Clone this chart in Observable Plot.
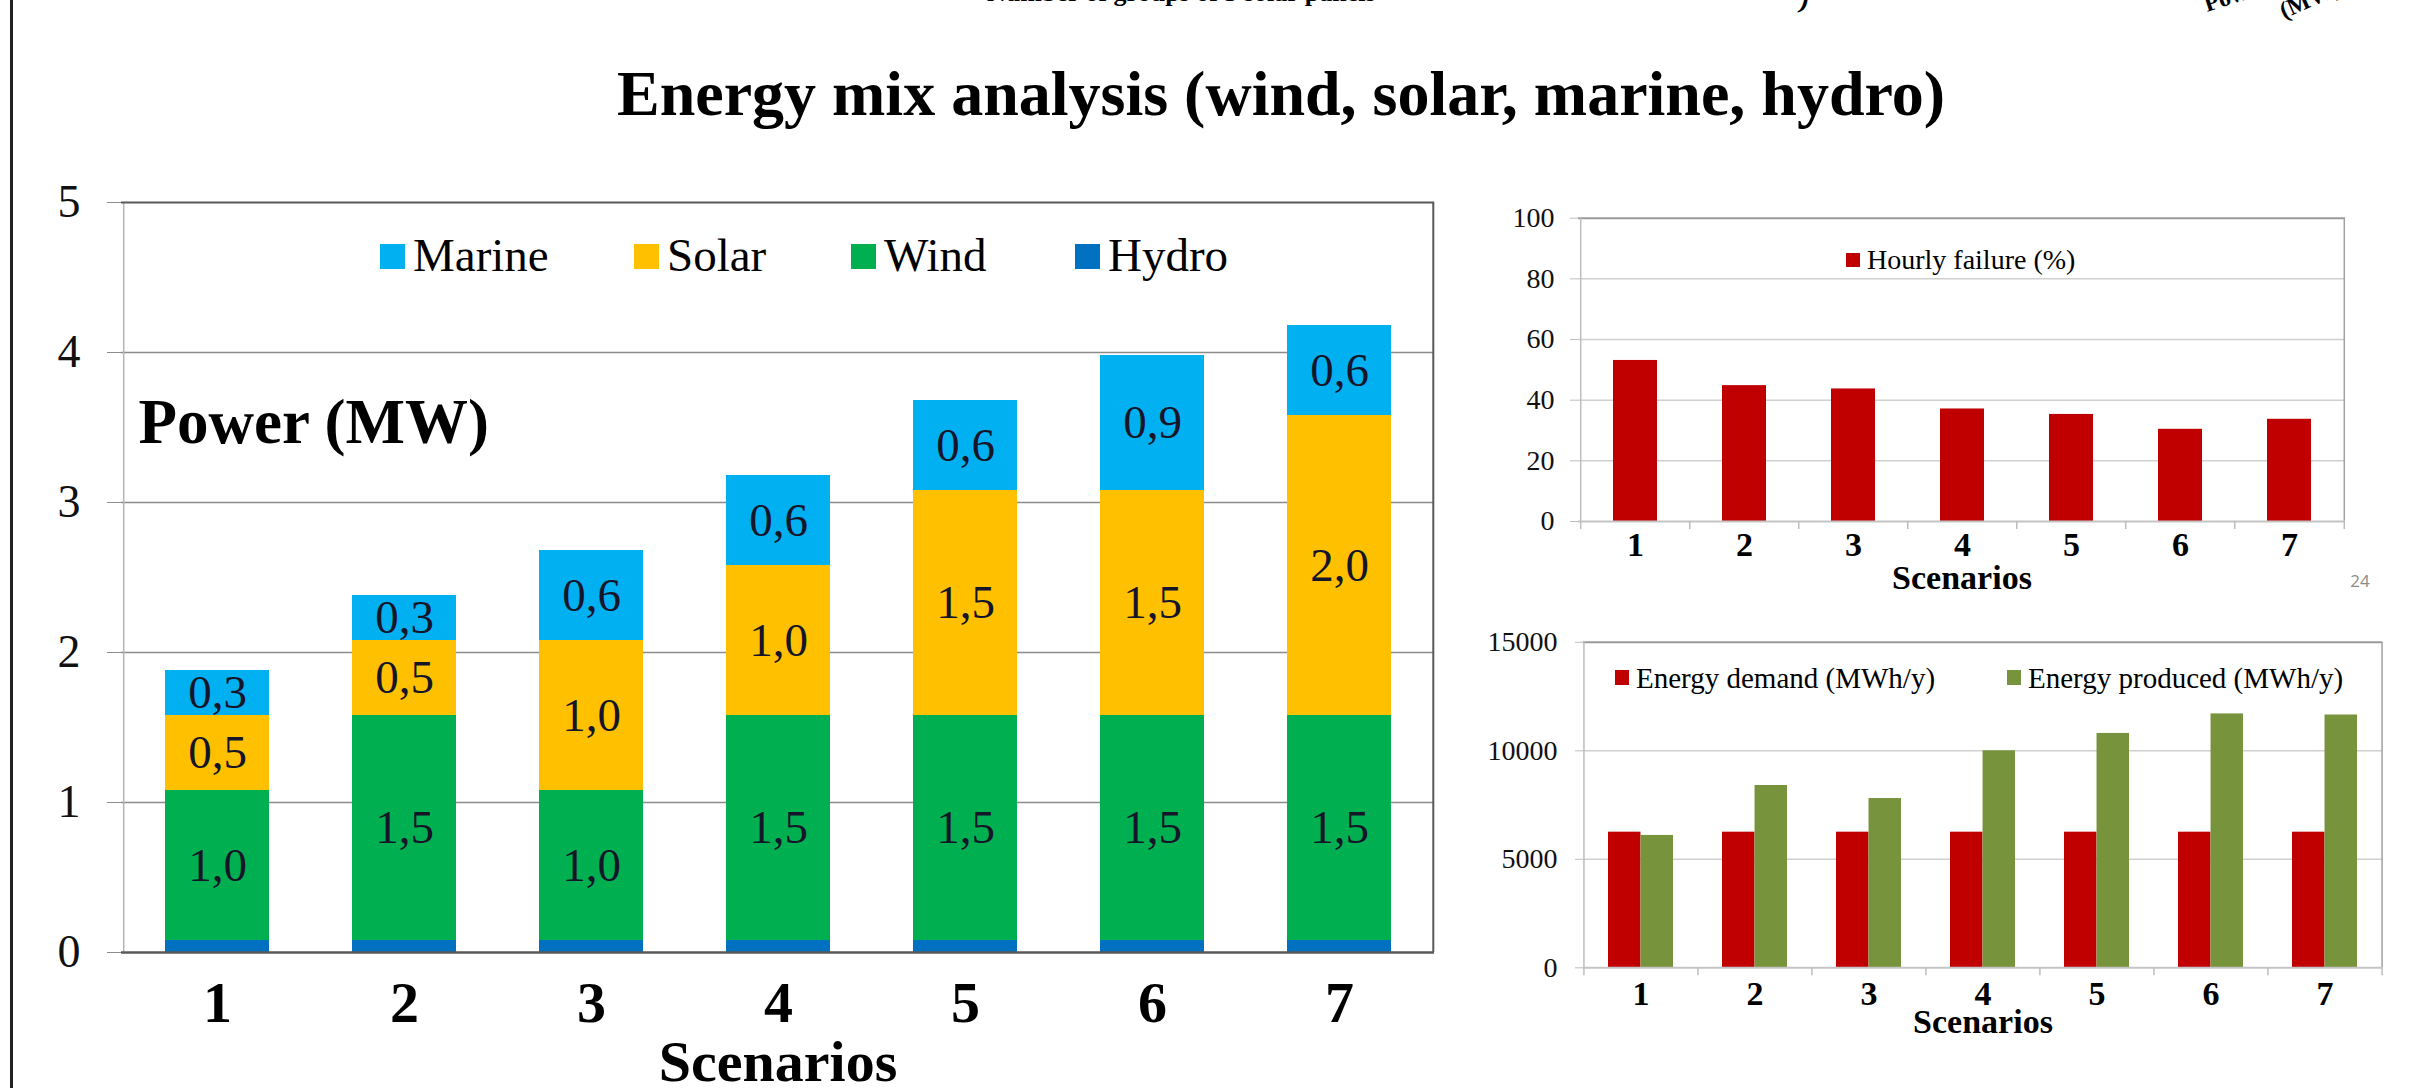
<!DOCTYPE html>
<html>
<head>
<meta charset="utf-8">
<script src="https://cdn.jsdelivr.net/npm/d3@7"></script>
<script src="https://cdn.jsdelivr.net/npm/@observablehq/plot@0.6"></script>
<style>
html, body { margin: 0; padding: 0; background: #fff; }
#page { position: relative; width: 2411px; height: 1088px; overflow: hidden; background: #fff; }
#page svg { position: absolute; }
</style>
</head>
<body>
<div id="page"></div>
<script>
// ---------- data ----------
const scenarios = [1, 2, 3, 4, 5, 6, 7];

const hydro  = [0.08, 0.08, 0.08, 0.08, 0.08, 0.08, 0.08];
const wind   = [1.0, 1.5, 1.0, 1.5, 1.5, 1.5, 1.5];
const solar  = [0.5, 0.5, 1.0, 1.0, 1.5, 1.5, 2.0];
const marine = [0.3, 0.3, 0.6, 0.6, 0.6, 0.9, 0.6];
const mixSeries = ["Marine", "Solar", "Wind", "Hydro"];
const mixColors = ["#00b0f0", "#ffc000", "#00b050", "#0070c0"];
const stackOrder = ["Hydro", "Wind", "Solar", "Marine"];
const powerTicks = [0, 1, 2, 3, 4, 5];

const failure = [53.1, 44.8, 43.7, 37.1, 35.3, 30.4, 33.7];
const failureTicks = [0, 20, 40, 60, 80, 100];
const failureLabel = "Hourly failure (%)";
const failureColor = "#c00000";

const demand   = [6250, 6250, 6250, 6250, 6250, 6250, 6250];
const produced = [6100, 8400, 7800, 10000, 10800, 11700, 11650];
const energyTicks = [0, 5000, 10000, 15000];
const energyLabels = ["Energy demand (MWh/y)", "Energy produced (MWh/y)"];
const energyColors = ["#c00000", "#77933c"];

const title = "Energy mix analysis (wind, solar, marine, hydro)";
const xTitle = "Scenarios";
const yTitle = "Power (MW)";
const pageNumber = "24";
const prevSlideText = "Number of groups of 3 solar panels";

// ---------- helpers ----------
const serif = "'Liberation Serif','Times New Roman',serif";
const page = document.getElementById("page");
function place(svg, left, top) {
  svg.style.left = left + "px";
  svg.style.top = top + "px";
  page.appendChild(svg);
}
const comma = v => v.toFixed(1).replace(".", ",");
const plain = d => String(d);

// ---------- main stacked chart ----------
const mixValues = {Hydro: hydro, Wind: wind, Solar: solar, Marine: marine};
const mixRows = scenarios.flatMap((s, i) =>
  stackOrder.map(k => ({scenario: s, series: k, value: mixValues[k][i]})));

const M = {w: 1460, h: 908, ml: 121, mr: 26, mt: 22, mb: 136};
const mStep = (M.w - M.ml - M.mr) / scenarios.length;
const main = Plot.plot({
  width: M.w, height: M.h,
  marginLeft: M.ml, marginRight: M.mr, marginTop: M.mt, marginBottom: M.mb,
  style: {fontFamily: serif, background: "transparent", overflow: "visible"},
  x: {type: "band", domain: scenarios, paddingInner: 0.445, paddingOuter: 0.2225},
  y: {domain: [0, 5]},
  color: {domain: mixSeries, range: mixColors},
  marks: [
    Plot.gridY(powerTicks.slice(1, -1), {stroke: "#8c8c8c", strokeOpacity: 1, strokeWidth: 1.5}),
    Plot.barY(mixRows, {x: "scenario", y: "value", fill: "series", order: stackOrder}),
    Plot.text(mixRows, Plot.stackY({
      x: "scenario", y: "value", z: "series", order: stackOrder,
      text: d => d.series === "Hydro" ? null : comma(d.value),
      fontSize: 47, fontFamily: serif, fill: "#15152a"
    })),
    Plot.ruleX([scenarios[0]], {x: d => d, dx: -mStep / 2, stroke: "#b5b5b5", strokeWidth: 1.5}),
    Plot.ruleX([scenarios[scenarios.length - 1]], {x: d => d, dx: mStep / 2, stroke: "#595959", strokeWidth: 2}),
    Plot.ruleY([5], {stroke: "#595959", strokeWidth: 2}),
    Plot.ruleY([0], {stroke: "#595959", strokeWidth: 2.5}),
    Plot.axisY(powerTicks, {tickSize: 14, tickPadding: 27, fontSize: 46, fontFamily: serif, stroke: "#8c8c8c", fill: "#111", tickFormat: plain, label: null}),
    Plot.axisX({tickSize: 0, tickPadding: 28, fontSize: 58, fontWeight: "bold", fontFamily: serif, fill: "#000", tickFormat: plain, label: null}),
    Plot.text([yTitle], {text: d => d, frameAnchor: "top-left", lineAnchor: "middle", dx: 17, dy: 220, textAnchor: "start", fontSize: 63, fontWeight: "bold", fontFamily: serif}),
    Plot.text([xTitle], {text: d => d, frameAnchor: "bottom", lineAnchor: "middle", dy: 110, fontSize: 58, fontWeight: "bold", fontFamily: serif})
  ]
});
place(main, 0, 180);

// ---------- hourly failure chart ----------
const failRows = scenarios.map((s, i) => ({scenario: s, value: failure[i]}));
const A = {w: 951, h: 410, ml: 118, mr: 66, mt: 27.7, mb: 79};
const aStep = (A.w - A.ml - A.mr) / scenarios.length;
const aFrameH = A.h - A.mt - A.mb;
const chartA = Plot.plot({
  width: A.w, height: A.h,
  marginLeft: A.ml, marginRight: A.mr, marginTop: A.mt, marginBottom: A.mb,
  style: {fontFamily: serif, background: "transparent", overflow: "visible"},
  x: {type: "band", domain: scenarios, paddingInner: 0.6, paddingOuter: 0.3},
  y: {domain: [0, 100]},
  marks: [
    Plot.gridY(failureTicks.slice(1, -1), {stroke: "#d0d0d0", strokeOpacity: 1, strokeWidth: 1.5}),
    Plot.ruleY([100], {stroke: "#9a9a9a", strokeWidth: 2}),
    Plot.barY(failRows, {x: "scenario", y: "value", fill: failureColor}),
    Plot.ruleX([scenarios[0]], {x: d => d, dx: -aStep / 2, stroke: "#bdbdbd", strokeWidth: 1.5}),
    Plot.ruleX([scenarios[scenarios.length - 1]], {x: d => d, dx: aStep / 2, stroke: "#a0a0a0", strokeWidth: 1.5}),
    Plot.ruleY([0], {stroke: "#c4c4c4", strokeWidth: 2}),
    Plot.ruleX(scenarios, {x: d => d, dx: -aStep / 2, insetTop: aFrameH, insetBottom: -8, stroke: "#bdbdbd", strokeWidth: 1.5}),
    Plot.ruleX([scenarios[scenarios.length - 1]], {x: d => d, dx: aStep / 2, insetTop: aFrameH, insetBottom: -8, stroke: "#bdbdbd", strokeWidth: 1.5}),
    Plot.axisY(failureTicks, {tickSize: 8, tickPadding: 16, fontSize: 28, fontFamily: serif, stroke: "#bdbdbd", fill: "#111", tickFormat: plain, label: null}),
    Plot.axisX({tickSize: 0, tickPadding: 10, fontSize: 34, fontWeight: "bold", fontFamily: serif, fill: "#000", tickFormat: plain, label: null}),
    Plot.text([xTitle], {text: d => d, frameAnchor: "bottom", lineAnchor: "middle", dy: 57, fontSize: 34, fontWeight: "bold", fontFamily: serif})
  ]
});
place(chartA, 1460, 190);

// ---------- energy chart ----------
const energyRows = scenarios.map((s, i) => ({scenario: s, demand: demand[i], produced: produced[i]}));
const E = {w: 951, h: 468, ml: 123, mr: 29, mt: 21.8, mb: 120.7};
const ePadIn = 0.43;
const eStep = (E.w - E.ml - E.mr) / scenarios.length;
const eBw = eStep * (1 - ePadIn);
const eFrameH = E.h - E.mt - E.mb;
const chartE = Plot.plot({
  width: E.w, height: E.h,
  marginLeft: E.ml, marginRight: E.mr, marginTop: E.mt, marginBottom: E.mb,
  style: {fontFamily: serif, background: "transparent", overflow: "visible"},
  x: {type: "band", domain: scenarios, paddingInner: ePadIn, paddingOuter: ePadIn / 2},
  y: {domain: [0, 15000]},
  marks: [
    Plot.gridY(energyTicks.slice(1, -1), {stroke: "#d0d0d0", strokeOpacity: 1, strokeWidth: 1.5}),
    Plot.ruleY([15000], {stroke: "#9a9a9a", strokeWidth: 2}),
    Plot.barY(energyRows, {x: "scenario", y: "demand", fill: energyColors[0], insetRight: eBw / 2}),
    Plot.barY(energyRows, {x: "scenario", y: "produced", fill: energyColors[1], insetLeft: eBw / 2}),
    Plot.ruleX([scenarios[0]], {x: d => d, dx: -eStep / 2, stroke: "#bdbdbd", strokeWidth: 1.5}),
    Plot.ruleX([scenarios[scenarios.length - 1]], {x: d => d, dx: eStep / 2, stroke: "#a0a0a0", strokeWidth: 1.5}),
    Plot.ruleY([0], {stroke: "#c4c4c4", strokeWidth: 2}),
    Plot.ruleX(scenarios, {x: d => d, dx: -eStep / 2, insetTop: eFrameH, insetBottom: -8, stroke: "#bdbdbd", strokeWidth: 1.5}),
    Plot.ruleX([scenarios[scenarios.length - 1]], {x: d => d, dx: eStep / 2, insetTop: eFrameH, insetBottom: -8, stroke: "#bdbdbd", strokeWidth: 1.5}),
    Plot.axisY(energyTicks, {tickSize: 8, tickPadding: 18, fontSize: 28, fontFamily: serif, stroke: "#bdbdbd", fill: "#111", tickFormat: plain, label: null}),
    Plot.axisX({tickSize: 0, tickPadding: 12.7, fontSize: 34, fontWeight: "bold", fontFamily: serif, fill: "#000", tickFormat: plain, label: null}),
    Plot.text([xTitle], {text: d => d, frameAnchor: "bottom", lineAnchor: "middle", dy: 54.5, fontSize: 34, fontWeight: "bold", fontFamily: serif})
  ]
});
place(chartE, 1460, 620);

// ---------- overlay: title, legends, slide decorations ----------
const ov = d3.create("svg")
  .attr("width", 2411).attr("height", 1088)
  .style("left", "0px").style("top", "0px")
  .style("font-family", serif);

// slide border
ov.append("line").attr("x1", 11.5).attr("x2", 11.5).attr("y1", 0).attr("y2", 1088)
  .attr("stroke", "#222").attr("stroke-width", 3);

// fragments of the previous slide at the top edge
ov.append("text").attr("x", 987).attr("y", 1).attr("font-size", 26).attr("font-weight", "bold")
  .text(prevSlideText);
ov.append("text").attr("transform", "translate(1798,7) rotate(15)").attr("font-size", 26).attr("font-weight", "bold").text(")");
ov.append("text").attr("transform", "translate(2207,12) rotate(-18)").attr("font-size", 24).attr("font-weight", "bold").text("Power");
ov.append("text").attr("transform", "translate(2284,19) rotate(-24)").attr("font-size", 24).attr("font-weight", "bold").text("(MW)");

// title
ov.append("text").attr("x", 1281).attr("y", 115).attr("text-anchor", "middle")
  .attr("font-size", 64).attr("font-weight", "bold").text(title);

// main legend
const mainLegendX = [380, 634, 851, 1075];
mixSeries.forEach((s, i) => {
  ov.append("rect").attr("x", mainLegendX[i]).attr("y", 244).attr("width", 25).attr("height", 25).attr("fill", mixColors[i]);
  ov.append("text").attr("x", mainLegendX[i] + 33).attr("y", 271).attr("font-size", 47).text(s);
});

// hourly failure legend
ov.append("rect").attr("x", 1846).attr("y", 253).attr("width", 14).attr("height", 14).attr("fill", failureColor);
ov.append("text").attr("x", 1867).attr("y", 269).attr("font-size", 28).text(failureLabel);

// energy legend
const energyLegendX = [1615, 2007];
energyLabels.forEach((s, i) => {
  ov.append("rect").attr("x", energyLegendX[i]).attr("y", 670).attr("width", 14).attr("height", 15).attr("fill", energyColors[i]);
  ov.append("text").attr("x", energyLegendX[i] + 21).attr("y", 687.5).attr("font-size", 29).text(s);
});

// page number
ov.append("text").attr("x", 2360).attr("y", 587).attr("text-anchor", "middle")
  .attr("font-family", "'Open Sans', sans-serif").attr("font-size", 17).attr("fill", "#8c8c8c").text(pageNumber);

page.appendChild(ov.node());
</script>
</body>
</html>
